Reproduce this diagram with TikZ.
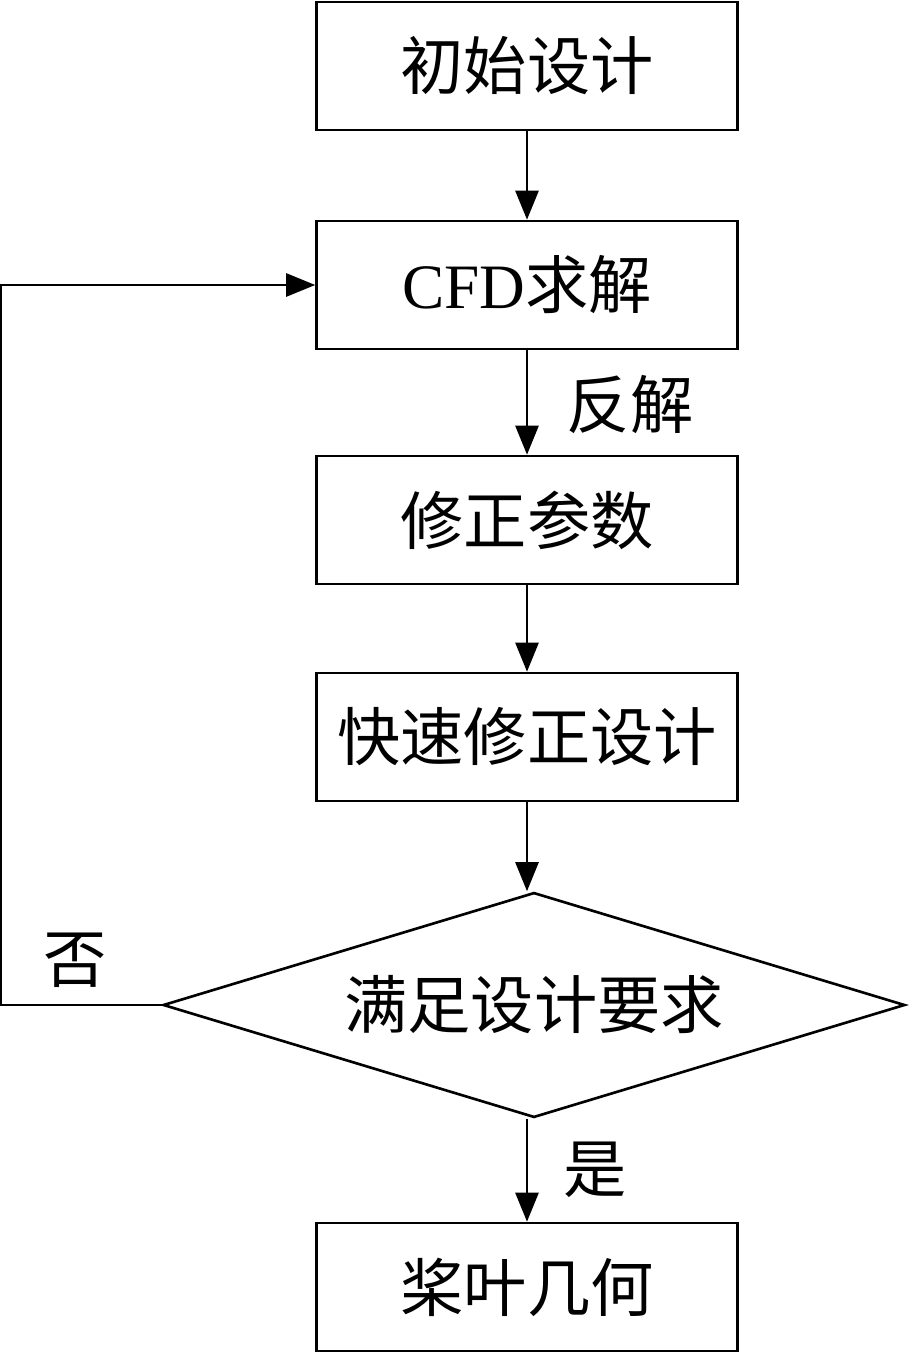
\documentclass[tikz,border=0pt]{standalone}
\usepackage{fontspec}
\setmainfont{Liberation Serif}
\newfontfamily\cjk{Noto Sans CJK SC}
\usetikzlibrary{arrows.meta, shapes.geometric, positioning}

\begin{document}
\begin{tikzpicture}[x=0.02cm, y=-0.02cm,
  stepbox/.style={draw, line width=1.5pt, minimum width=8.42cm, minimum height=2.56cm,
    inner sep=0pt, font=\fontsize{36}{40}\selectfont},
  check/.style={draw, diamond, shape aspect=3.3, line width=1.5pt, minimum width=14.84cm,
    minimum height=4.5cm, inner sep=0pt, font=\fontsize{36}{40}\selectfont},
  lbl/.style={font=\fontsize{36}{40}\selectfont},
  flow/.style={-{Triangle[length=0.58cm, width=0.46cm]}, line width=1.5pt}]
\useasboundingbox (0,0) rectangle (910,1355);

% Steps
\node[stepbox] (init) at (527,66) {\cjk 初始设计};
\node[stepbox] (cfd) at (527,285) {CFD{\cjk 求解}};
\node[stepbox] (param) at (527,520) {\cjk 修正参数};
\node[stepbox] (quick) at (527,737) {\cjk 快速修正设计};

% Decision
\node[check] (req) at (534,1005) {\cjk 满足设计要求};

% Result
\node[stepbox] (blade) at (527,1287) {\cjk 桨叶几何};

% Connectors
\draw[flow] (init) -- (cfd);
\draw[flow] (cfd) -- (param);
\draw[flow] (param) -- (quick);
\draw[flow] (quick.south) -- (quick.south |- req.north);
\draw[flow] (req.south -| blade.north) -- (blade.north);
\draw[flow] (req.west) -- ++(-161,0) |- (cfd.west);

% Labels
\node[lbl] (inv) at (630,405) {\cjk 反解};
\node[lbl] (no) at (75,960) {\cjk 否};
\node[lbl] (yes) at (595,1170) {\cjk 是};
\end{tikzpicture}
\end{document}
